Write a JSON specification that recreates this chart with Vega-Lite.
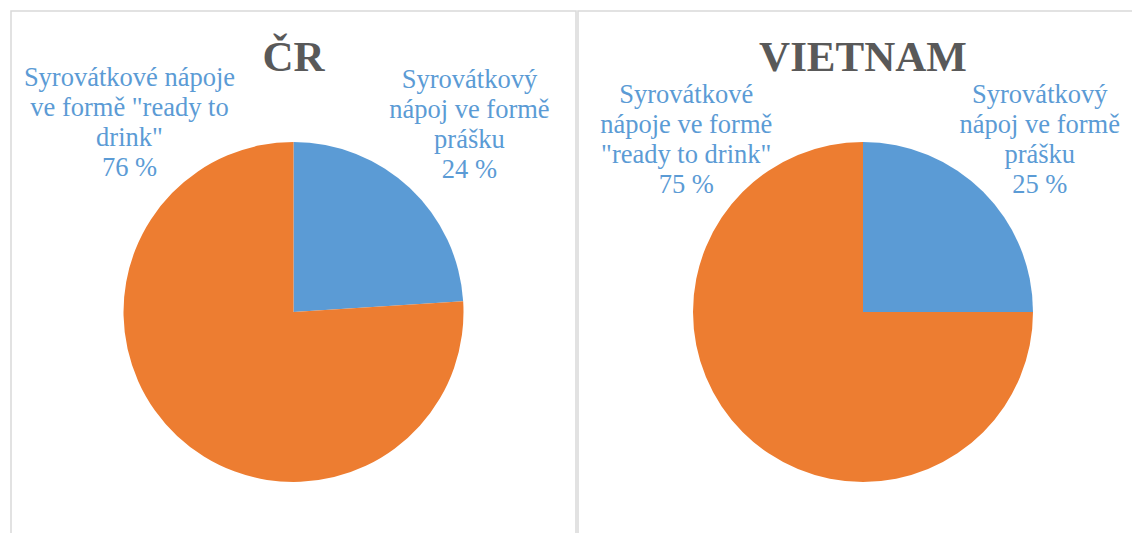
{
  "$schema": "https://vega.github.io/schema/vega-lite/v6.json",
  "padding": {"left": 10, "top": 10, "right": -13, "bottom": -79},
  "spacing": 0,
  "background": "white",
  "config": {
    "font": "Liberation Serif",
    "title": {"font": "Liberation Serif", "fontSize": 43, "fontWeight": "bold", "color": "#595959", "anchor": "middle", "baseline": "alphabetic", "offset": -69}
  },
  "data": {
    "values": [
      {"zeme": "ČR", "druh": "Syrovátkový nápoj ve formě prášku", "podil": 24, "popisek": ["Syrovátkový", "nápoj ve formě", "prášku", "24 %"]},
      {"zeme": "ČR", "druh": "Syrovátkové nápoje ve formě \"ready to drink\"", "podil": 76, "popisek": ["Syrovátkové nápoje", "ve formě \"ready to", "drink\"", "76 %"]},
      {"zeme": "VIETNAM", "druh": "Syrovátkový nápoj ve formě prášku", "podil": 25, "popisek": ["Syrovátkový", "nápoj ve formě", "prášku", "25 %"]},
      {"zeme": "VIETNAM", "druh": "Syrovátkové nápoje ve formě \"ready to drink\"", "podil": 75, "popisek": ["Syrovátkové", "nápoje ve formě", "\"ready to drink\"", "75 %"]}
    ]
  },
  "hconcat": [
    {
      "width": 565,
      "height": 602,
      "view": {"stroke": "#d9d9d9", "strokeWidth": 1.5, "fill": "white"},
      "title": {"text": "ČR"},
      "transform": [{"filter": "datum.zeme == 'ČR'"}],
      "encoding": {
        "theta": {"field": "podil", "type": "quantitative", "stack": true},
        "order": {"field": "podil", "sort": "ascending"}
      },
      "layer": [
        {
          "mark": {"type": "arc", "outerRadius": 170},
          "encoding": {
            "color": {"field": "druh", "type": "nominal", "legend": null,
              "scale": {"domain": ["Syrovátkový nápoj ve formě prášku", "Syrovátkové nápoje ve formě \"ready to drink\""], "range": ["#5B9BD5", "#ED7D31"]}}
          }
        },
        {
          "transform": [{"filter": "datum.podil < 50"}],
          "mark": {"type": "text", "radius": 257, "dy": -45, "fontSize": 26.5, "lineHeight": 30, "color": "#5B9BD5", "font": "Liberation Serif", "align": "center", "baseline": "middle"},
          "encoding": {"text": {"field": "popisek"}}
        },
        {
          "transform": [{"filter": "datum.podil > 50"}],
          "mark": {"type": "text", "radius": 250, "thetaOffset": 3.18, "dy": -45, "fontSize": 26.5, "lineHeight": 30, "color": "#5B9BD5", "font": "Liberation Serif", "align": "center", "baseline": "middle"},
          "encoding": {"text": {"field": "popisek"}}
        }
      ]
    },
    {
      "width": 570,
      "height": 602,
      "view": {"stroke": "#d9d9d9", "strokeWidth": 1.5, "fill": "white"},
      "title": {"text": "VIETNAM"},
      "transform": [{"filter": "datum.zeme == 'VIETNAM'"}],
      "encoding": {
        "theta": {"field": "podil", "type": "quantitative", "stack": true},
        "order": {"field": "podil", "sort": "ascending"}
      },
      "layer": [
        {
          "mark": {"type": "arc", "outerRadius": 170},
          "encoding": {
            "color": {"field": "druh", "type": "nominal", "legend": null,
              "scale": {"domain": ["Syrovátkový nápoj ve formě prášku", "Syrovátkové nápoje ve formě \"ready to drink\""], "range": ["#5B9BD5", "#ED7D31"]}}
          }
        },
        {
          "transform": [{"filter": "datum.podil < 50"}],
          "mark": {"type": "text", "radius": 250, "dy": -40, "fontSize": 26.5, "lineHeight": 30, "color": "#5B9BD5", "font": "Liberation Serif", "align": "center", "baseline": "middle"},
          "encoding": {"text": {"field": "popisek"}}
        },
        {
          "transform": [{"filter": "datum.podil > 50"}],
          "mark": {"type": "text", "radius": 250, "thetaOffset": 3.14159, "dy": -40, "fontSize": 26.5, "lineHeight": 30, "color": "#5B9BD5", "font": "Liberation Serif", "align": "center", "baseline": "middle"},
          "encoding": {"text": {"field": "popisek"}}
        }
      ]
    }
  ]
}
